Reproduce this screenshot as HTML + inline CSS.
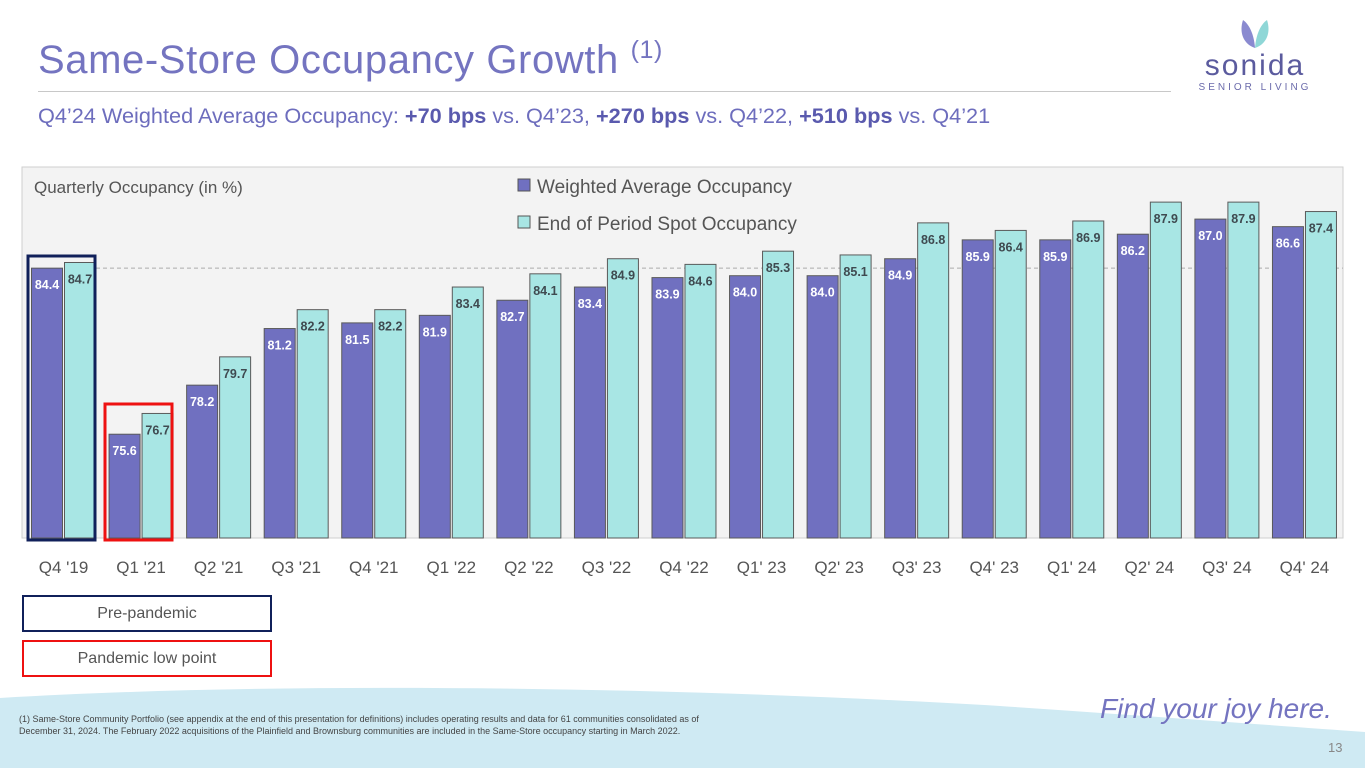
<!DOCTYPE html>
<html><head><meta charset="utf-8"><style>
body{margin:0;width:1365px;height:768px;overflow:hidden;background:#fff;font-family:"Liberation Sans","DejaVu Sans",sans-serif;position:relative}
.abs{position:absolute}
</style></head><body>
<div class="abs" style="left:38px;top:38px;font-size:40px;color:#7474c0;letter-spacing:0.6px">Same-Store Occupancy Growth <span style="font-size:25px;vertical-align:top;position:relative;top:-2px">(1)</span></div>
<div class="abs" style="left:38px;top:91px;width:1133px;height:1px;background:#c8c8c8"></div>
<div class="abs" style="left:38px;top:103px;font-size:21.7px;color:#6d6dbd">Q4’24 Weighted Average Occupancy: <b style="color:#5a5aae">+70 bps</b> vs. Q4’23, <b style="color:#5a5aae">+270 bps</b> vs. Q4’22, <b style="color:#5a5aae">+510 bps</b> vs. Q4’21</div>
<div class="abs" style="left:1195px;top:14px;width:120px;height:90px;text-align:center">
<svg width="40" height="36" viewBox="0 0 40 36" style="display:block;margin:0 auto"><path d="M20 34 C8 30 4 18 8 6 C14 10 19 20 20 34Z" fill="#8a8ad0"/><path d="M20 34 C32 30 36 18 32 6 C26 10 21 20 20 34Z" fill="#8fd7d7"/></svg>
<div style="font-size:30px;color:#5b5b9e;letter-spacing:2px;line-height:32px">sonida</div>
<div style="font-size:10px;color:#6b6bab;letter-spacing:3px">SENIOR LIVING</div></div>
<svg class="abs" style="left:0;top:0" width="1365" height="768">
<rect x="22" y="167" width="1321" height="371" fill="#f3f3f3" stroke="#cfcfcf"/>
<text x="34" y="193" font-size="17" fill="#555" font-family="Liberation Sans, sans-serif">Quarterly Occupancy (in %)</text>
<g id="bars"></g>
<rect x="518" y="179" width="12" height="12" fill="#7070c0" stroke="#555"/>
<text x="537" y="193" font-size="19" fill="#555" font-family="Liberation Sans, sans-serif">Weighted Average Occupancy</text>
<rect x="518" y="216" width="12" height="12" fill="#a8e6e4" stroke="#555"/>
<text x="537" y="230" font-size="19" fill="#555" font-family="Liberation Sans, sans-serif">End of Period Spot Occupancy</text>
<rect x="28" y="256" width="67" height="284" fill="none" stroke="#10205a" stroke-width="3"/>
<rect x="105" y="404" width="67" height="136" fill="none" stroke="#ee1111" stroke-width="3"/>
</svg>
<div class="abs" style="left:22px;top:595px;width:246px;height:33px;border:2px solid #10205a;text-align:center;line-height:33px;font-size:16px;color:#555">Pre-pandemic</div>
<div class="abs" style="left:22px;top:640px;width:246px;height:33px;border:2px solid #ee1111;text-align:center;line-height:33px;font-size:16px;color:#555">Pandemic low point</div>
<svg class="abs" style="left:0;top:680px" width="1365" height="88"><path d="M0 18 C300 0 700 8 1000 26 C1150 36 1280 46 1365 52 L1365 88 L0 88Z" fill="#cfeaf3"/></svg>
<div class="abs" style="left:19px;top:714px;width:690px;font-size:9px;line-height:11.5px;color:#444">(1) Same-Store Community Portfolio (see appendix at the end of this presentation for definitions) includes operating results and data for 61 communities consolidated as of December 31, 2024. The February 2022 acquisitions of the Plainfield and Brownsburg communities are included in the Same-Store occupancy starting in March 2022.</div>
<div class="abs" style="left:1100px;top:693px;font-size:28px;color:#7474c0;font-style:italic">Find your joy here.</div>
<div class="abs" style="left:1328px;top:740px;font-size:13px;color:#888">13</div>
<script>
const categories=["Q4 '19","Q1 '21","Q2 '21","Q3 '21","Q4 '21","Q1 '22","Q2 '22","Q3 '22","Q4 '22","Q1' 23","Q2' 23","Q3' 23","Q4' 23","Q1' 24","Q2' 24","Q3' 24","Q4' 24"];
const weighted=[84.4,75.6,78.2,81.2,81.5,81.9,82.7,83.4,83.9,84.0,84.0,84.9,85.9,85.9,86.2,87.0,86.6];
const spot=[84.7,76.7,79.7,82.2,82.2,83.4,84.1,84.9,84.6,85.3,85.1,86.8,86.4,86.9,87.9,87.9,87.4];
const refLine=84.4;
const NS="http://www.w3.org/2000/svg";
const g=document.getElementById('bars');
const yMin=70.1,base=538,ppu=18.87;
const y=v=>base-(v-yMin)*ppu;
const x0=63.5,step=77.56,bw=31;
const xc=i=>x0+i*step;
function mk(t,a){const e=document.createElementNS(NS,t);for(const k in a)e.setAttribute(k,a[k]);return e;}
const dl=mk('line',{x1:96,x2:1343,y1:y(refLine),y2:y(refLine),stroke:'#aaa','stroke-dasharray':'4,3'});


g.appendChild(dl);
categories.forEach((c,i)=>{
  [[weighted[i],-bw-1,'#7070c0','#fff','weighted'],[spot[i],1,'#a8e6e4','#3f4a50','spot']].forEach(([v,off,fill,tc,nm])=>{
    const r=mk('rect',{x:xc(i)+off,y:y(v),width:bw,height:base-y(v),fill:fill,stroke:'#5a5a5a','stroke-width':1});
    
    
    g.appendChild(r);
    const t=mk('text',{x:xc(i)+off+bw/2,y:y(v)+21,'text-anchor':'middle','font-size':12.5,'font-weight':'bold',fill:tc,'font-family':'Liberation Sans, sans-serif'});
    t.textContent=v.toFixed(1);
    
    
    g.appendChild(t);
  });
  const l=mk('text',{x:xc(i),y:573,'text-anchor':'middle','font-size':17,fill:'#555','font-family':'Liberation Sans, sans-serif'});
  l.textContent=c;
  
  
  g.appendChild(l);
});
</script>
</body></html>
